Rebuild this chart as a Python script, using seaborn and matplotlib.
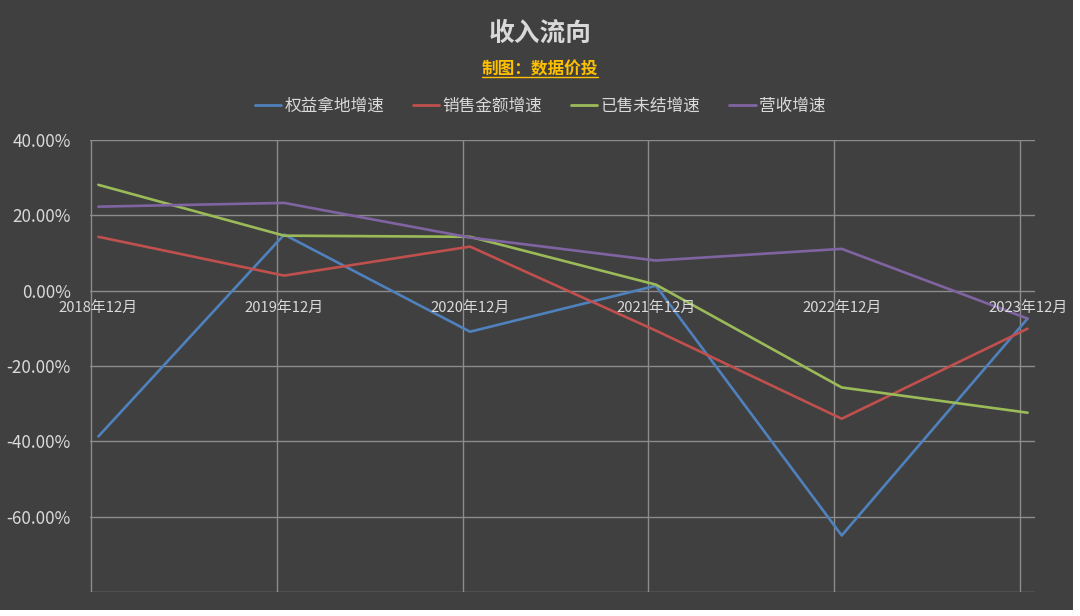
import pandas as pd
import seaborn as sns
import matplotlib.pyplot as plt
from matplotlib.lines import Line2D
from matplotlib.patches import Rectangle
from matplotlib.ticker import FuncFormatter

# 数据
years = ['2018年12月', '2019年12月', '2020年12月', '2021年12月', '2022年12月', '2023年12月']
series_names = ['权益拿地增速', '销售金额增速', '已售未结增速', '营收增速']
land = [-38.7, 14.9, -10.9, 1.3, -65.0, -7.4]
sales = [14.3, 4.0, 11.7, -10.6, -34.0, -10.1]
unsettled = [28.1, 14.6, 14.3, 1.6, -25.7, -32.4]
revenue = [22.3, 23.3, 14.1, 8.0, 11.1, -7.4]
colors = ['#4F81BD', '#C0504D', '#9BBB59', '#8064A2']

rows = []
for name, vals in zip(series_names, [land, sales, unsettled, revenue]):
    for i, v in enumerate(vals):
        rows.append({'idx': i, '年份': years[i], '系列': name, '增速': v})
df = pd.DataFrame(rows)

sns.set_theme(style='dark')
plt.rcParams['font.family'] = ['Noto Sans CJK SC', 'DejaVu Sans']

bg = '#404040'
txt = '#D9D9D9'
grid = '#8C8C8C'

fig = plt.figure(figsize=(10.8, 6.16), dpi=100, facecolor='white')
# 图表区域背景
fig.patches.append(Rectangle((0, 1 - 610 / 616), 1073 / 1080, 610 / 616,
                             transform=fig.transFigure, facecolor=bg,
                             edgecolor='none', zorder=-10))
ax = fig.add_axes([90 / 1080, 24 / 616, 945 / 1080, 452 / 616])
ax.set_facecolor(bg)

sns.lineplot(data=df, x='idx', y='增速', hue='系列', palette=colors,
             hue_order=series_names, linewidth=1.9, ax=ax, legend=False)

ax.set_xlim(-0.045, 5.04)
ax.set_ylim(-80, 40)
ax.set_yticks(range(-80, 41, 20))
ax.yaxis.set_major_formatter(FuncFormatter(lambda v, p: '' if v == -80 else f'{v:.2f}%'))
ax.tick_params(axis='y', colors=txt, labelsize=12.3, length=0, pad=14)
ax.set_xticks([])
ax.set_xlabel('')
ax.set_ylabel('')
for s in ax.spines.values():
    s.set_visible(False)

for v in range(-80, 41, 20):
    ax.axhline(v, color=grid, linewidth=1, zorder=0)
for i in range(len(years)):
    ax.axvline(i - 0.04, color=grid, linewidth=1, zorder=0)

# 类别标签位于0线下方
for i, lab in enumerate(years):
    ax.text(i, -2.6, lab, ha='center', va='top', color=txt, fontsize=10.7, zorder=5)

fig.text(0.5, 1 - 33 / 616, '收入流向', ha='center', va='center',
         color=txt, fontsize=18.5, fontweight='bold')
sub = fig.text(0.5, 1 - 69 / 616, '制图：数据价投', ha='center', va='center',
               color='#FFC000', fontsize=12, fontweight='bold')
fig.canvas.draw()
bb = sub.get_window_extent(fig.canvas.get_renderer())
uy = bb.y0 + 1
fig.lines.append(Line2D([bb.x0 / 1080, bb.x1 / 1080], [uy / 616, uy / 616],
                        transform=fig.transFigure, color='#FFC000', linewidth=1))

handles = [Line2D([0], [0], color=c, linewidth=2) for c in colors]
leg = fig.legend(handles, series_names, loc='center', bbox_to_anchor=(0.5, 1 - 106 / 616),
                 ncol=4, frameon=False, fontsize=12, handlelength=1.6,
                 handletextpad=0.2, columnspacing=1.7, labelcolor=txt)

fig.savefig('out.png', dpi=100, facecolor=fig.get_facecolor())
